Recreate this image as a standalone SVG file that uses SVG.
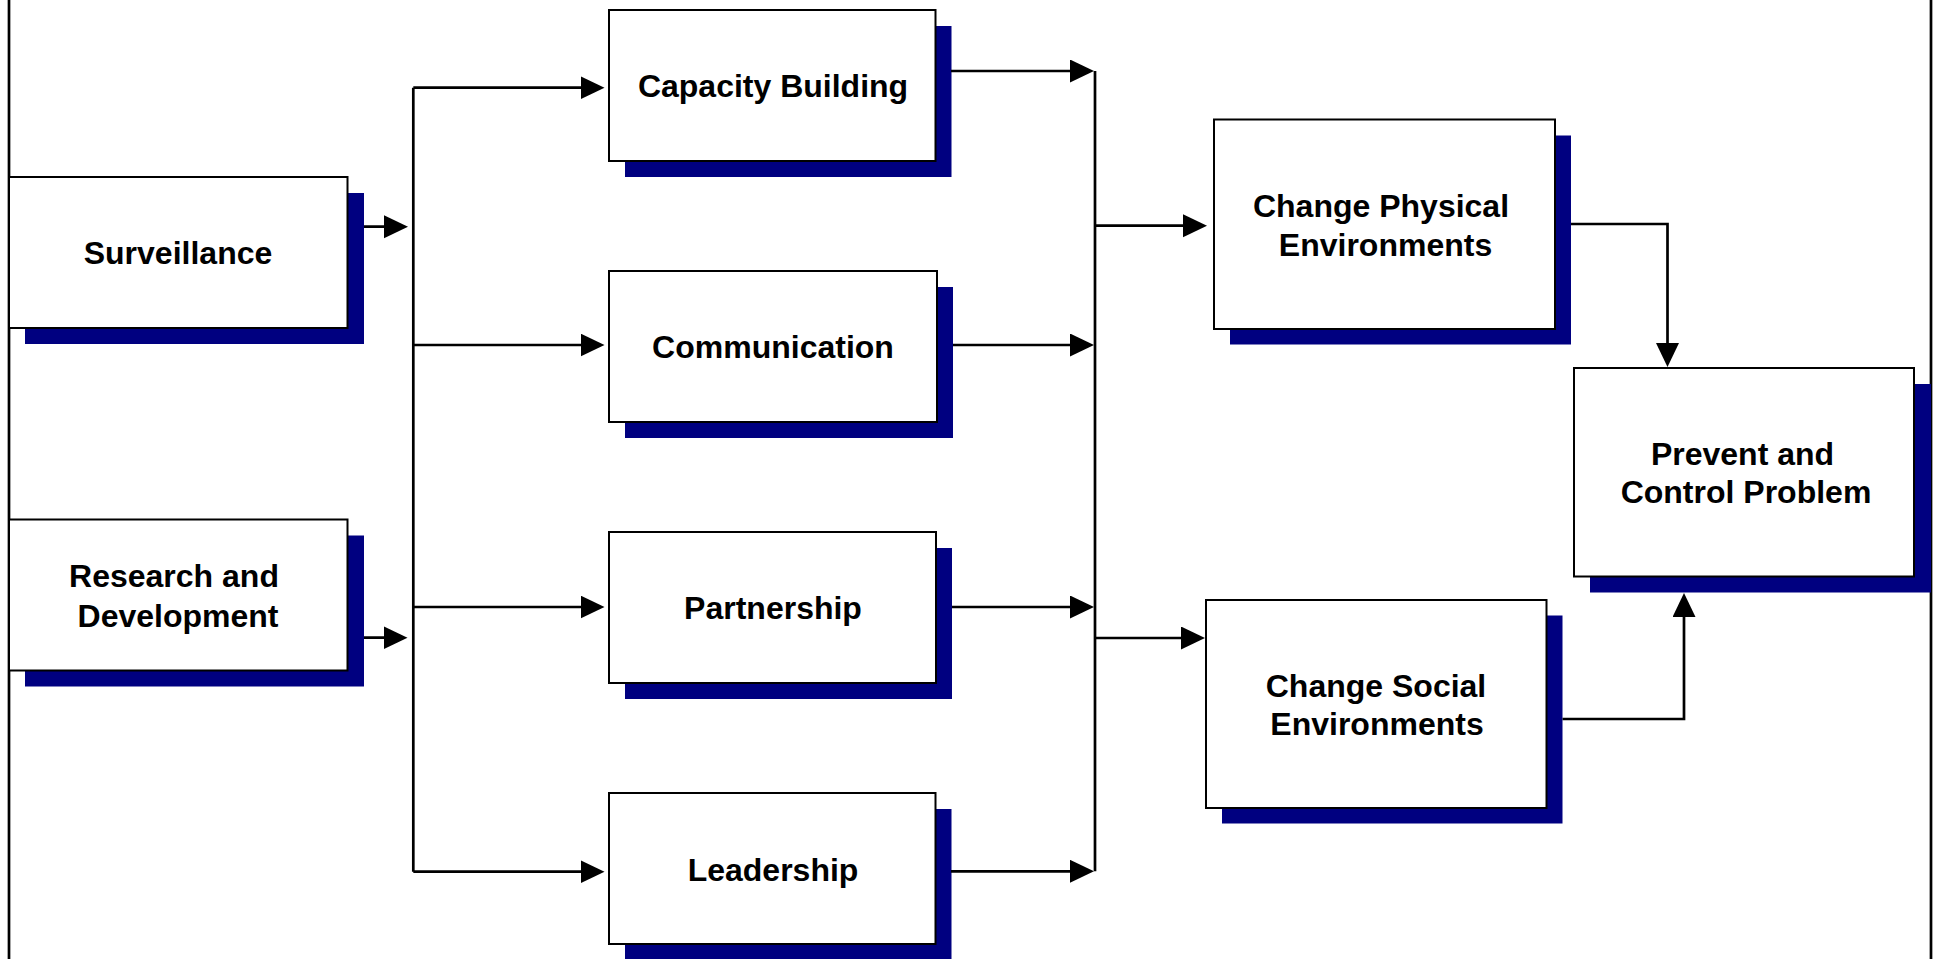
<svg xmlns="http://www.w3.org/2000/svg" width="1933" height="959" viewBox="0 0 1933 959">
<style>
.shadow{fill:#000080;stroke:none}
.box{fill:#fff;stroke:#000;stroke-width:2}
.lbl{font-family:"Liberation Sans",Arial,sans-serif;font-weight:bold;font-size:32px;fill:#000;text-anchor:middle}
.con{fill:none;stroke:#000;stroke-width:2.7}
.border{stroke:#000;stroke-width:2.7}
</style>
<defs>
<marker id="arr" markerUnits="userSpaceOnUse" markerWidth="24" markerHeight="24" refX="20" refY="11.5" orient="auto">
<path d="M0,0 L24,11.5 L0,23 z" fill="#000"/>
</marker>
</defs>
<rect width="1933" height="959" fill="#fff"/>
<g id="frame">
<line class="border" x1="9" y1="0" x2="9" y2="959"/>
<line class="border" x1="1931" y1="0" x2="1931" y2="959"/>
</g>
<g id="surveillance">
<rect class="shadow" x="25" y="193" width="339" height="151"/>
<rect class="box" x="9" y="177" width="338.5" height="151"/>
<text class="lbl" x="178" y="264">Surveillance</text>
</g>
<g id="research">
<rect class="shadow" x="25" y="535.5" width="339" height="151"/>
<rect class="box" x="9" y="519.5" width="338.5" height="151"/>
<text class="lbl" x="174" y="587">Research and</text>
<text class="lbl" x="178" y="626.5">Development</text>
</g>
<g id="capacity">
<rect class="shadow" x="625" y="26" width="326.5" height="151"/>
<rect class="box" x="609" y="10" width="326.5" height="151"/>
<text class="lbl" x="773" y="97">Capacity Building</text>
</g>
<g id="communication">
<rect class="shadow" x="625" y="287" width="328" height="151"/>
<rect class="box" x="609" y="271" width="328" height="151"/>
<text class="lbl" x="773" y="358">Communication</text>
</g>
<g id="partnership">
<rect class="shadow" x="625" y="548" width="327" height="151"/>
<rect class="box" x="609" y="532" width="327" height="151"/>
<text class="lbl" x="773" y="619">Partnership</text>
</g>
<g id="leadership">
<rect class="shadow" x="625" y="809" width="326.5" height="151"/>
<rect class="box" x="609" y="793" width="326.5" height="151"/>
<text class="lbl" x="773" y="880.5">Leadership</text>
</g>
<g id="change-physical">
<rect class="shadow" x="1230" y="135.5" width="341" height="209"/>
<rect class="box" x="1214" y="119.5" width="341" height="209.5"/>
<text class="lbl" x="1381" y="216.5">Change Physical</text>
<text class="lbl" x="1385.5" y="255.5">Environments</text>
</g>
<g id="change-social">
<rect class="shadow" x="1222" y="615.5" width="340.5" height="208"/>
<rect class="box" x="1206" y="600" width="340.5" height="208"/>
<text class="lbl" x="1376" y="696.5">Change Social</text>
<text class="lbl" x="1377" y="735">Environments</text>
</g>
<g id="prevent">
<rect class="shadow" x="1590" y="384" width="341" height="208.5"/>
<rect class="box" x="1574" y="368" width="340" height="208.5"/>
<text class="lbl" x="1742.5" y="464.5">Prevent and</text>
<text class="lbl" x="1746" y="503">Control Problem</text>
</g>
<g id="connectors">
<line class="con" x1="364" y1="226.7" x2="404" y2="226.7" marker-end="url(#arr)"/>
<line class="con" x1="364" y1="637.7" x2="403.5" y2="637.7" marker-end="url(#arr)"/>
<line class="con" x1="413.3" y1="87.7" x2="413.3" y2="871.7"/>
<line class="con" x1="413.3" y1="87.7" x2="600.5" y2="87.7" marker-end="url(#arr)"/>
<line class="con" x1="413.3" y1="345" x2="600.5" y2="345" marker-end="url(#arr)"/>
<line class="con" x1="413.3" y1="607" x2="600.5" y2="607" marker-end="url(#arr)"/>
<line class="con" x1="413.3" y1="871.7" x2="600.5" y2="871.7" marker-end="url(#arr)"/>
<line class="con" x1="951" y1="71" x2="1090" y2="71" marker-end="url(#arr)"/>
<line class="con" x1="953" y1="345" x2="1090" y2="345" marker-end="url(#arr)"/>
<line class="con" x1="952" y1="607" x2="1090" y2="607" marker-end="url(#arr)"/>
<line class="con" x1="951" y1="871.3" x2="1090" y2="871.3" marker-end="url(#arr)"/>
<line class="con" x1="1095" y1="71" x2="1095" y2="871.3"/>
<line class="con" x1="1095" y1="225.7" x2="1203" y2="225.7" marker-end="url(#arr)"/>
<line class="con" x1="1095" y1="638" x2="1201" y2="638" marker-end="url(#arr)"/>
<polyline class="con" points="1571,224 1667.5,224 1667.5,363" marker-end="url(#arr)"/>
<polyline class="con" points="1562.5,719 1684,719 1684,597" marker-end="url(#arr)"/>
</g>
</svg>
